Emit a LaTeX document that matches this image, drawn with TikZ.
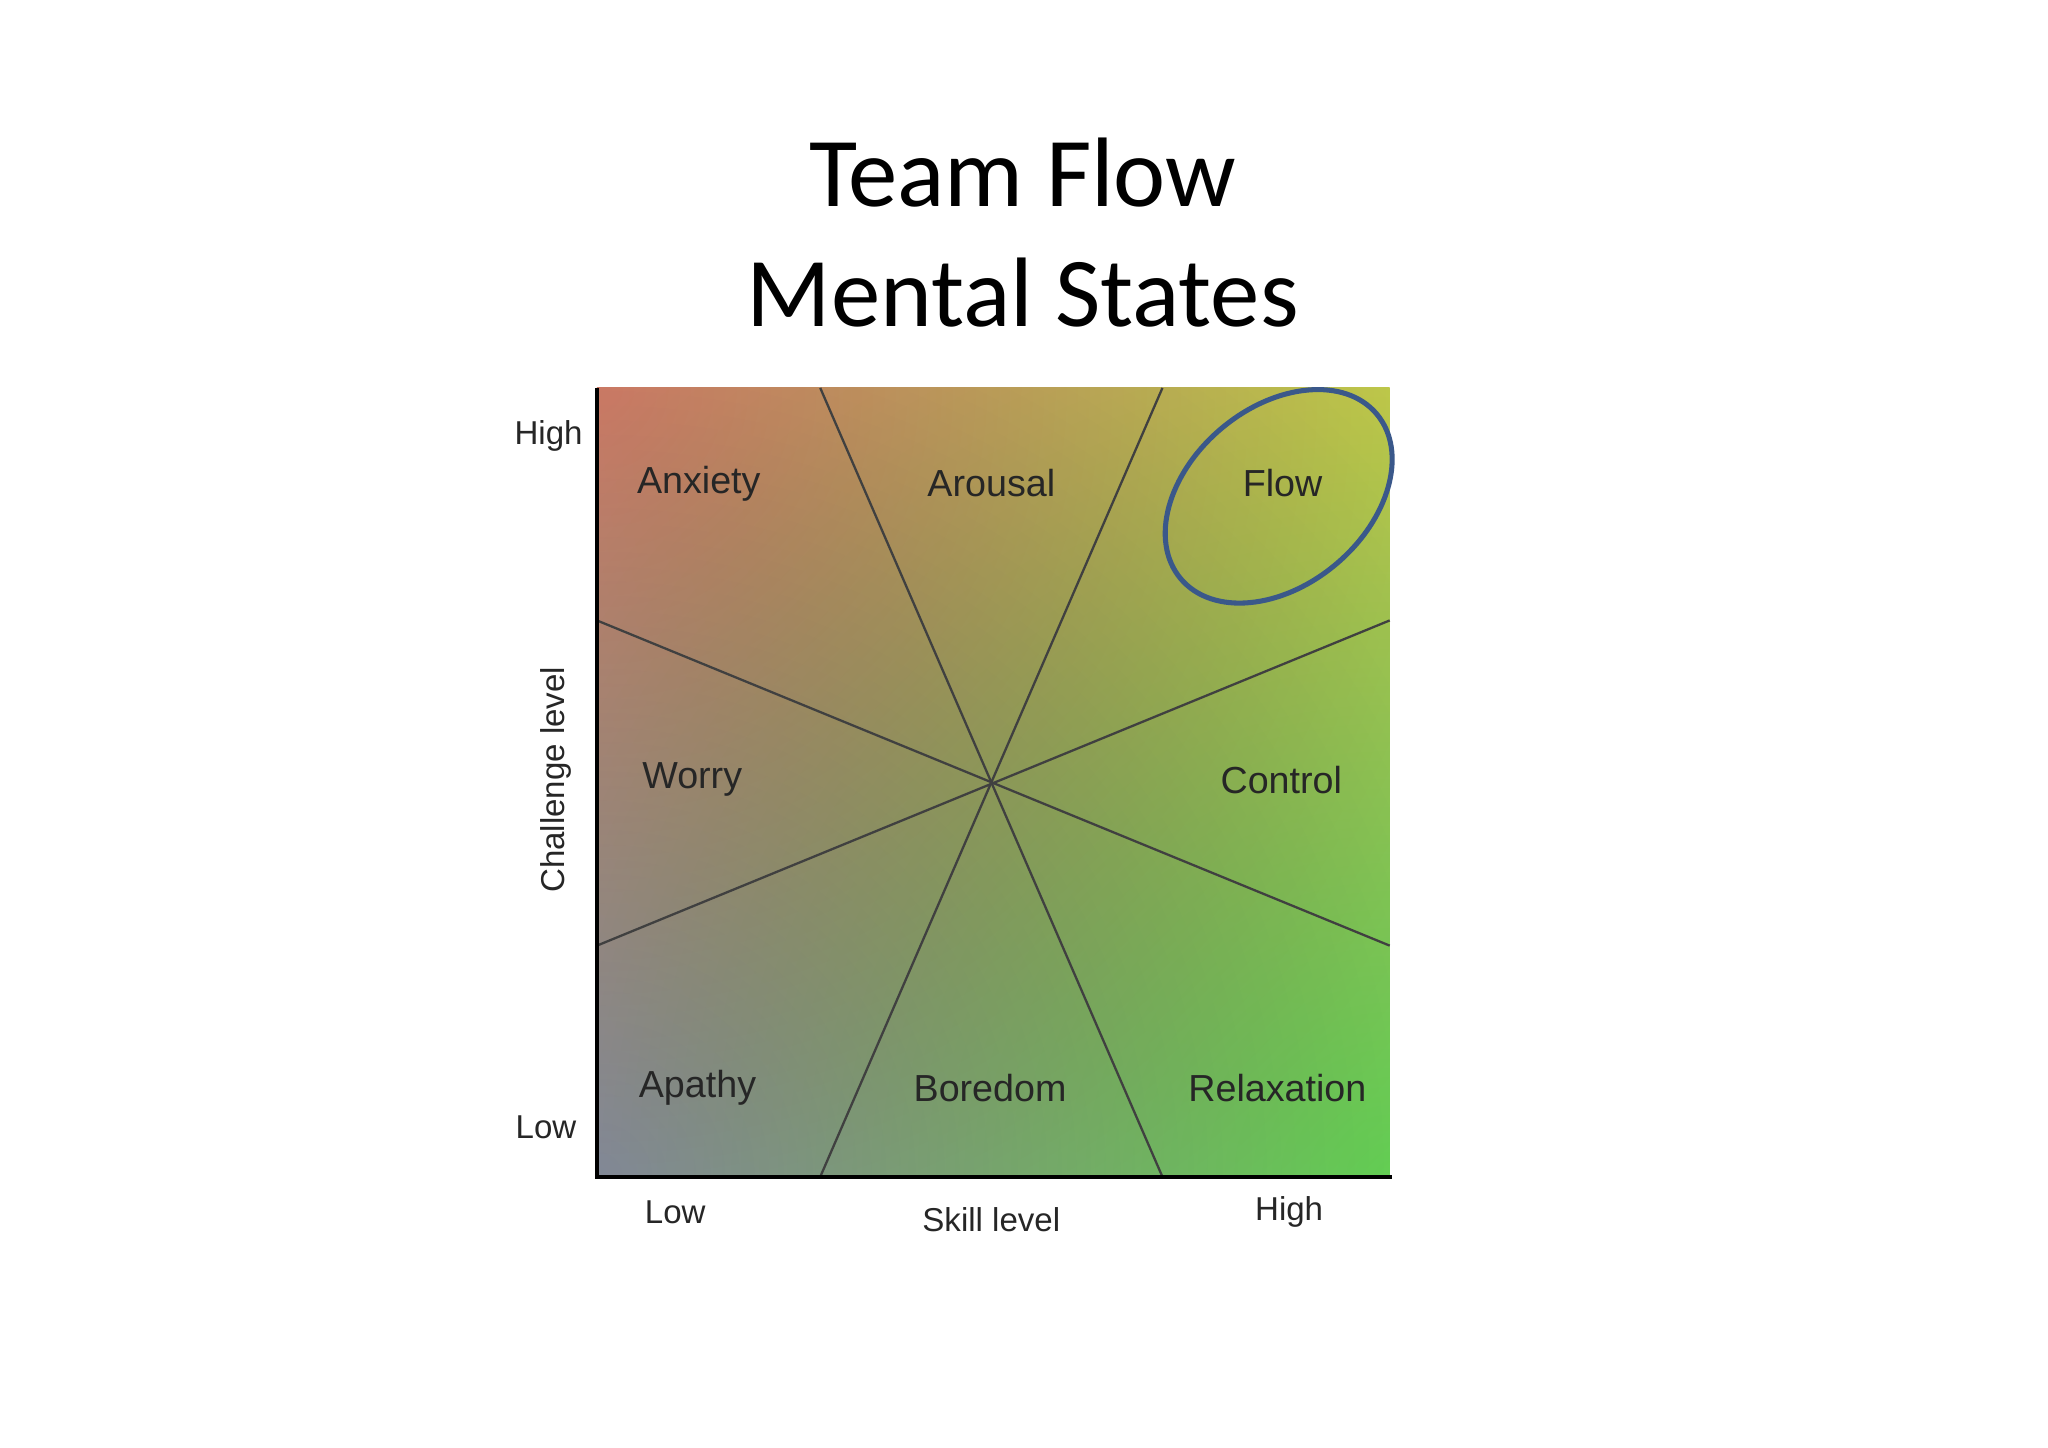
\documentclass[tikz,border=0pt]{standalone}
\usepackage{fontspec}
\setmainfont{Liberation Sans}
\newfontfamily\titlefont{Carlito}
\begin{document}
\begin{tikzpicture}[x=0.01cm,y=-0.01cm,
  lab/.style={font=\fontsize{8.2pt}{10pt}\selectfont, text=black!85},
  axl/.style={font=\fontsize{7.2pt}{9pt}\selectfont, text=black!85},
  sep/.style={draw=black!75, line width=0.5pt}]
\useasboundingbox (0,0) rectangle (1568,1108);
\node[font=\titlefont\fontsize{21.5pt}{26pt}\selectfont, align=center] (title) at (783,178) {Team Flow\\Mental States};
\begin{scope}
\clip (457,297) rectangle (1064,901);
\fill[white] (457,297) rectangle (1064,901);
\begin{scope}[blend mode=multiply]
\shade[inner color=red!45, outer color=white] (457,297) circle (1000);
\shade[inner color=yellow!55, outer color=white] (1064,297) circle (1000);
\shade[inner color=blue!35, outer color=white] (457,901) circle (1000);
\shade[inner color=green!55, outer color=white] (1064,901) circle (1000);
\end{scope}
\end{scope}
\coordinate (c) at (760,600);
\coordinate (t1) at (628,297); \coordinate (t2) at (890,297);
\coordinate (b1) at (628,901); \coordinate (b2) at (890,901);
\coordinate (l1) at (457,475); \coordinate (l2) at (457,724);
\coordinate (r1) at (1064,475); \coordinate (r2) at (1064,724);
\draw[sep] (t1) -- (b2); \draw[sep] (t2) -- (b1);
\draw[sep] (l1) -- (r2); \draw[sep] (l2) -- (r1);
\draw[line width=1pt] (457,297) -- (457,901) -- (1066,901);
\node[lab] (anx) at (535,370) {Anxiety};
\node[lab] (aro) at (759,370) {Arousal};
\node[lab] (flo) at (982,370) {Flow};
\node[lab] (wor) at (530,597) {Worry};
\node[lab] (con) at (981,597) {Control};
\node[lab] (apa) at (534,833) {Apathy};
\node[lab] (bor) at (758,833) {Boredom};
\node[lab] (rel) at (978,833) {Relaxation};
\node[axl] (hy) at (420,334) {High};
\node[axl] (ly) at (418,863) {Low};
\node[axl] (lx) at (517,928) {Low};
\node[axl] (hx) at (987,928) {High};
\node[axl] (sk) at (759,934) {Skill level};
\node[axl, rotate=90] (ch) at (426,597) {Challenge level};
\draw[draw={rgb,255:red,58;green,88;blue,138}, line width=1.1pt] (979,380) ellipse [x radius=98, y radius=68, rotate=40];
\end{tikzpicture}
\end{document}
